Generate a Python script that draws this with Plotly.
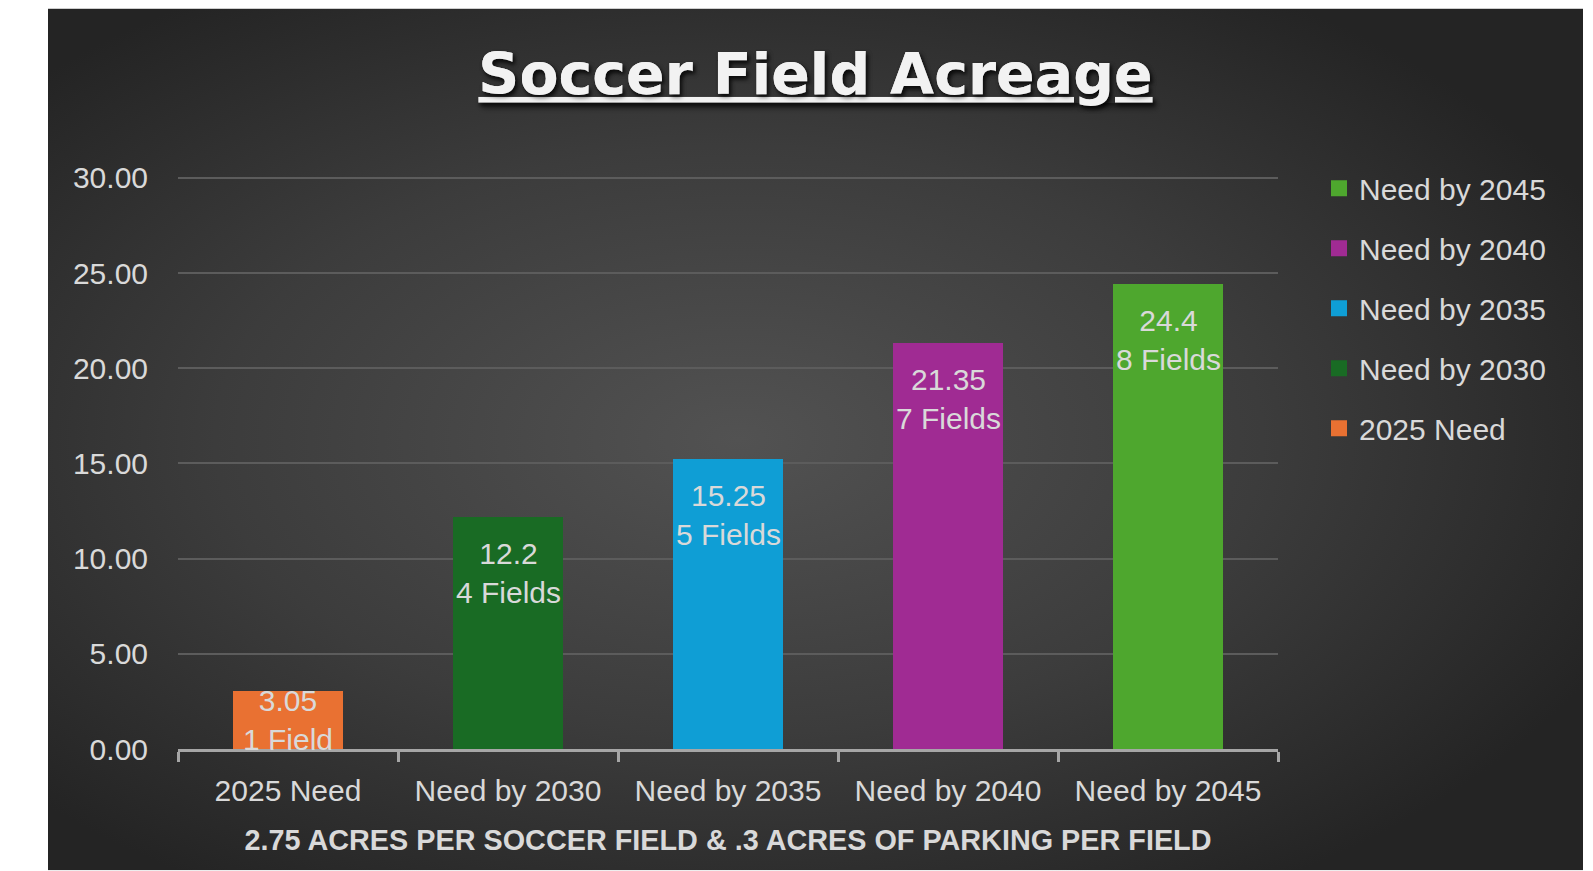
import base64
import plotly.graph_objects as go

# ---- data ----
categories = ["2025 Need", "Need by 2030", "Need by 2035", "Need by 2040", "Need by 2045"]
acres = [3.05, 12.2, 15.25, 21.35, 24.4]
fields = [1, 4, 5, 7, 8]
field_words = ["Field", "Fields", "Fields", "Fields", "Fields"]
value_labels = ["3.05", "12.2", "15.25", "21.35", "24.4"]
colors = ["#E97132", "#196B24", "#0F9ED5", "#A02B93", "#4EA72E"]
y_ticks = [0, 5, 10, 15, 20, 25, 30]

title_text = "Soccer Field Acreage"
x_title = "2.75 ACRES PER SOCCER FIELD & .3 ACRES OF PARKING PER FIELD"

# ---- layout geometry (figure pixels; page has an 8px body margin) ----
W, H = 1585, 863
Y_MAX = 30.2
unit = 572 / 30.0          # pixels per acre
PLOT_BOTTOM = 741.5
PLOT_LEFT, PLOT_RIGHT = 170, 1270
L = PLOT_LEFT
R = W - PLOT_RIGHT
T = PLOT_BOTTOM - Y_MAX * unit
B = H - PLOT_BOTTOM
PW, PH = W - L - R, H - T - B


def fx(px):
    return (px - L) / PW


def fy(py):
    return (H - B - py) / PH


# chart background panel with radial gradient
bg_x0, bg_x1, bg_y0, bg_y1 = 40, 1575, 0, 863
bw, bh = bg_x1 - bg_x0, bg_y1 - bg_y0
svg = (
    f"<svg xmlns='http://www.w3.org/2000/svg' width='{bw}' height='{bh}' "
    f"viewBox='0 0 {bw} {bh}' preserveAspectRatio='none'>"
    "<defs><radialGradient id='g' cx='0.45' cy='0.5' r='0.62'>"
    "<stop offset='0' stop-color='#525252'/>"
    "<stop offset='0.55' stop-color='#3c3c3c'/>"
    "<stop offset='1' stop-color='#242424'/>"
    "</radialGradient></defs>"
    f"<rect width='{bw}' height='{bh}' fill='url(#g)'/></svg>"
)
svg_uri = "data:image/svg+xml;base64," + base64.b64encode(svg.encode()).decode()

FONT = "Liberation Sans, Arial, sans-serif"
TXT = "#d9d9d9"
LABEL_SIZE = 30
LABEL_BLOCK = 2 * 1.3 * LABEL_SIZE + 22   # px needed for an inside-end label

fig = go.Figure()
for i, cat in enumerate(categories):
    fig.add_trace(
        go.Bar(
            x=[cat],
            y=[acres[i]],
            name=cat,
            marker=dict(color=colors[i], line=dict(width=0)),
            legendgroup=cat,
            showlegend=False,
            hoverinfo="x+y",
        )
    )

# legend entries (square swatches), latest need listed first
for i in reversed(range(len(categories))):
    fig.add_trace(
        go.Scatter(
            x=[None],
            y=[None],
            mode="markers",
            name=categories[i],
            legendgroup=categories[i],
            marker=dict(symbol="square", size=17, color=colors[i], line=dict(width=0)),
            hoverinfo="skip",
        )
    )

# data labels (value + number of fields): inside end, or centred if the bar is short
for i, cat in enumerate(categories):
    bar_px = acres[i] * unit
    if bar_px >= LABEL_BLOCK:
        pos = dict(y=acres[i], yanchor="top", yshift=-18)
    else:
        pos = dict(y=acres[i] / 2, yanchor="middle", yshift=0)
    fig.add_annotation(
        x=cat,
        xref="x",
        yref="y",
        showarrow=False,
        text=f"{value_labels[i]}<br>{fields[i]} {field_words[i]}",
        font=dict(family=FONT, size=LABEL_SIZE, color=TXT),
        align="center",
        **pos,
    )

fig.update_layout(
    width=W,
    height=H,
    margin=dict(l=L, r=R, t=T, b=B, pad=0),
    paper_bgcolor="white",
    plot_bgcolor="rgba(0,0,0,0)",
    barmode="stack",
    bargap=0.5,
    images=[
        dict(
            source=svg_uri,
            xref="paper",
            yref="paper",
            x=fx(bg_x0),
            y=fy(bg_y0),
            sizex=bw / PW,
            sizey=bh / PH,
            xanchor="left",
            yanchor="top",
            sizing="stretch",
            layer="below",
        )
    ],
    title=dict(
        text=title_text,
        x=fx((bg_x0 + bg_x1) / 2),
        xanchor="center",
        xref="paper",
        y=1 - 66 / H,
        yanchor="middle",
        yref="container",
        font=dict(
            family="DejaVu Sans, sans-serif",
            size=57,
            color="#f2f2f2",
            weight="bold",
            lineposition="under",
            shadow="2px 3px 4px rgba(0,0,0,0.55)",
        ),
    ),
    legend=dict(
        x=fx(1311),
        y=fy(154),
        xanchor="left",
        yanchor="top",
        traceorder="grouped",
        tracegroupgap=18,
        itemsizing="trace",
        font=dict(family=FONT, size=30, color=TXT),
        bgcolor="rgba(0,0,0,0)",
        itemclick=False,
    ),
    xaxis=dict(
        type="category",
        categoryorder="array",
        categoryarray=categories,
        showline=True,
        linecolor="#a6a6a6",
        linewidth=2.5,
        ticks="outside",
        tickson="boundaries",
        ticklen=10,
        tickwidth=2.5,
        tickcolor="#a6a6a6",
        ticklabelstandoff=13,
        tickfont=dict(family=FONT, size=30, color=TXT),
        showgrid=False,
        zeroline=False,
        title=dict(
            text=x_title,
            font=dict(family=FONT, size=28.8, color=TXT, weight="bold"),
            standoff=25,
        ),
    ),
    yaxis=dict(
        range=[0, Y_MAX],
        tickvals=y_ticks,
        tickformat=".2f",
        showgrid=True,
        gridcolor="#5c5c5c",
        gridwidth=1.5,
        zeroline=False,
        showline=False,
        ticks="",
        ticklabelstandoff=29,
        tickfont=dict(family=FONT, size=30, color=TXT),
    ),
    showlegend=True,
)

fig.write_html("out.html")
